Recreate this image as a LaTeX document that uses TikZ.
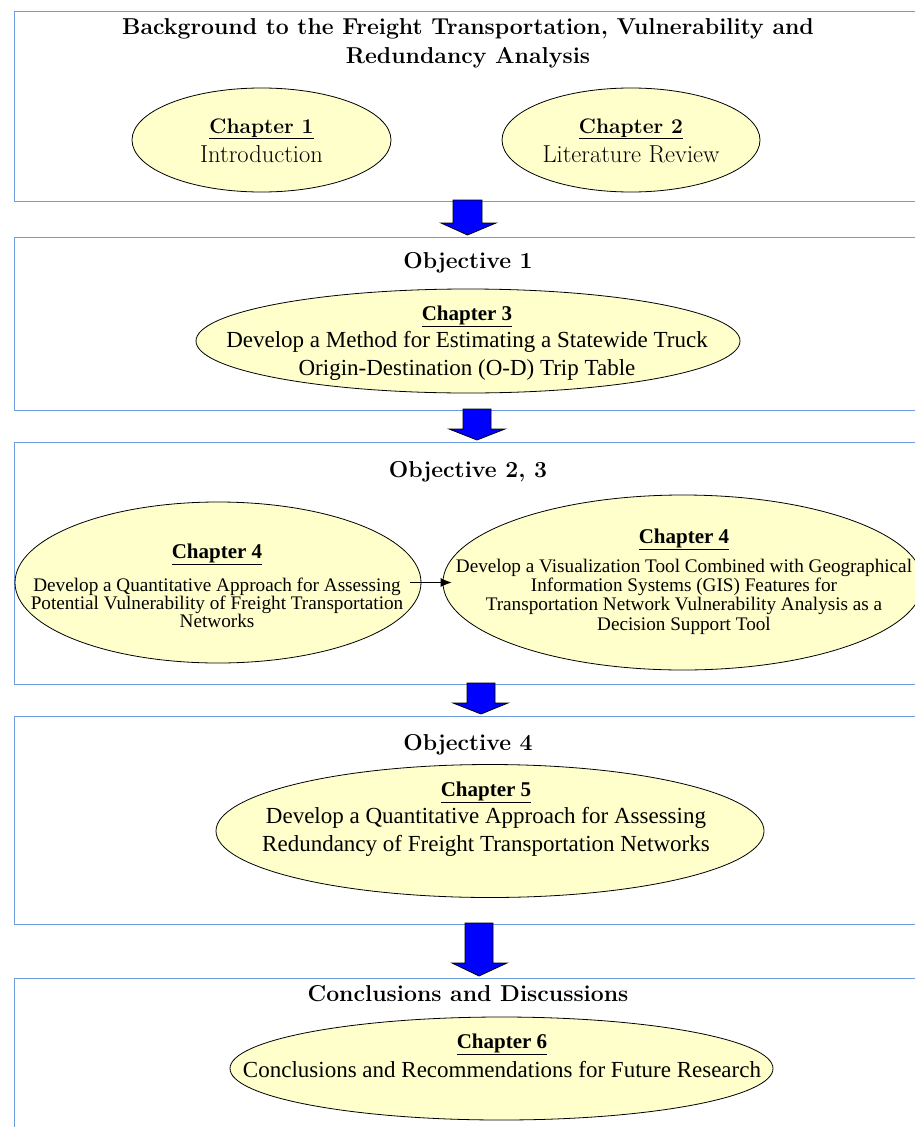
\documentclass[tikz,border=0pt]{standalone}
\usepackage{fontspec}
\newfontfamily\timesfont{Liberation Serif}
\usetikzlibrary{shapes.geometric}
\usetikzlibrary{arrows.meta}

\definecolor{boxline}{RGB}{110,155,222}
\definecolor{chapfill}{RGB}{255,255,204}
\newcommand{\chaphead}[1]{{\bfseries\fontsize{21}{21}\selectfont\underline{#1}}}

\begin{document}
\begin{tikzpicture} [
    x=1pt, y=-1pt,
    stage/.style = {draw=boxline, line width=1.4pt, minimum width=910pt, anchor=north west, inner sep=0pt},
    chapter/.style = {ellipse, draw=black, line width=0.8pt, fill=chapfill, inner sep=0pt},
    heading/.style = {font=\bfseries\fontsize{23}{29}\selectfont, align=center, anchor=base},
    chaptext/.style = {align=center, anchor=base, inner sep=0pt},
    blockarrow/.style = {draw=black, line width=0.8pt, fill=blue, line join=miter}
]
    \useasboundingbox (0,0) rectangle (915,1127);

    \node [stage, minimum height=190pt] (b1) at (13.5,10.5) {};
    \node [stage, minimum height=173pt] (b2) at (13.5,236.5) {};
    \node [stage, minimum height=242pt] (b3) at (13.5,441.5) {};
    \node [stage, minimum height=208pt] (b4) at (13.5,715.5) {};
    \node [stage, minimum height=160pt] (b5) at (13.5,977.5) {};

    \node [heading] (h1) at (468,63) {Background to the Freight Transportation, Vulnerability and\\Redundancy Analysis};
    \node [chapter, minimum width=259pt, minimum height=104pt] (c1) at (261.5,140) {};
    \node [chaptext, font=\fontsize{24.5}{29}\selectfont] (t1) at (261.5,162) {\chaphead{Chapter 1}\\Introduction};
    \node [chapter, minimum width=258pt, minimum height=104pt] (c2) at (631,140) {};
    \node [chaptext, font=\fontsize{24.5}{29}\selectfont] (t2) at (631,162) {\chaphead{Chapter 2}\\Literature Review};

    \node [heading] (h2) at (468,268) {Objective 1};
    \node [chapter, minimum width=544pt, minimum height=104pt] (c3) at (468,341) {};
    \node [chaptext, font=\timesfont\fontsize{23}{27.5}\selectfont] (t3) at (467,375)
        {\chaphead{Chapter 3}\\Develop a Method for Estimating a Statewide Truck\\Origin-Destination (O-D) Trip Table};

    \node [heading] (h3) at (468,477) {Objective 2, 3};
    \node [chapter, minimum width=406pt, minimum height=161pt] (c4a) at (218,582.5) {};
    \node [chaptext, font=\timesfont\fontsize{19.2}{18}\selectfont] (t4a) at (217,627)
        {\chaphead{Chapter 4}\\[12pt]Develop a Quantitative Approach for Assessing\\Potential Vulnerability of Freight Transportation\\Networks};
    \node [chapter, minimum width=480pt, minimum height=175pt] (c4b) at (683,582.5) {};
    \node [chaptext, font=\timesfont\fontsize{19.2}{19.3}\selectfont] (t4b) at (684,630)
        {\chaphead{Chapter 4}\\[8pt]Develop a Visualization Tool Combined with Geographical\\Information Systems (GIS) Features for\\Transportation Network Vulnerability Analysis as a\\Decision Support Tool};

    \node [heading] (h4) at (468,750) {Objective 4};
    \node [chapter, minimum width=548pt, minimum height=133pt] (c5) at (490,831) {};
    \node [chaptext, font=\timesfont\fontsize{23}{27.5}\selectfont] (t5) at (486,851)
        {\chaphead{Chapter 5}\\Develop a Quantitative Approach for Assessing\\Redundancy of Freight Transportation Networks};

    \node [heading] (h5) at (468,1001) {Conclusions and Discussions};
    \node [chapter, minimum width=543pt, minimum height=103pt] (c6) at (501.5,1068.5) {};
    \node [chaptext, font=\timesfont\fontsize{23}{28.5}\selectfont] (t6) at (502,1077)
        {\chaphead{Chapter 6}\\Conclusions and Recommendations for Future Research};

    \draw[-{Latex[length=11pt,width=9pt]}, line width=0.8pt] ([xshift=-11pt]c4a.east) -- ([xshift=9pt]c4b.west);

    \draw[blockarrow] (453,200) -- (482,200) -- (482,223) -- (496,223) -- (467.5,235) -- (441,223) -- (453,223) -- cycle;
    \draw[blockarrow] (463,409) -- (491,409) -- (491,429) -- (505,429) -- (477,440) -- (449,429) -- (463,429) -- cycle;
    \draw[blockarrow] (467,683) -- (495,683) -- (495,703) -- (508,703) -- (481,714) -- (453,703) -- (467,703) -- cycle;
    \draw[blockarrow] (465,923) -- (493,923) -- (493,963) -- (507,963) -- (479,976) -- (452,963) -- (465,963) -- cycle;
\end{tikzpicture}
\end{document}
